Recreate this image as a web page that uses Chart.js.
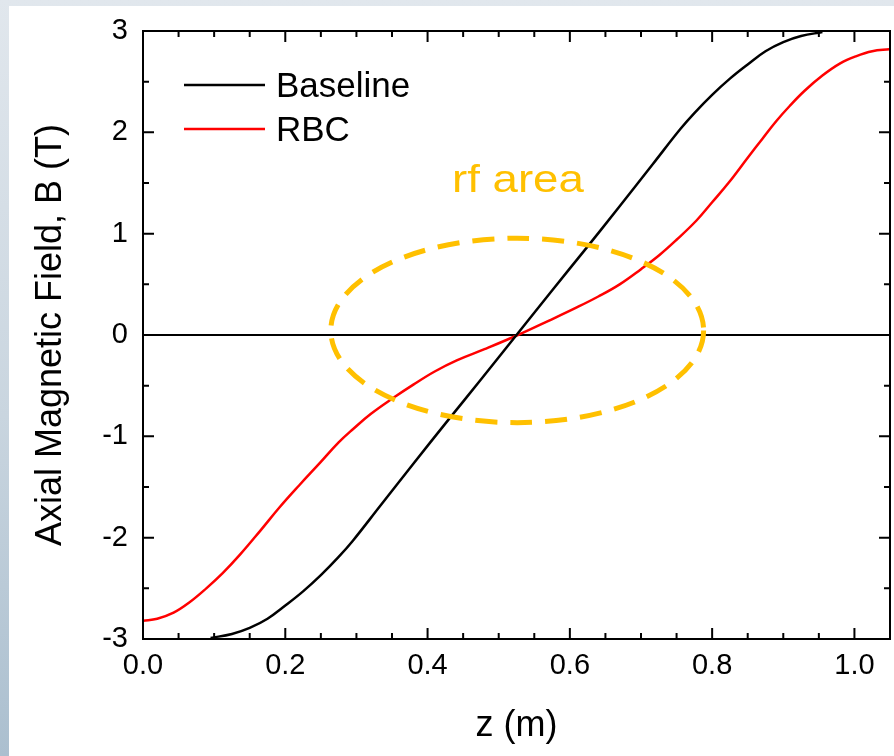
<!DOCTYPE html>
<html>
<head>
<meta charset="utf-8">
<script src="https://cdn.jsdelivr.net/npm/chart.js@4.4.0/dist/chart.umd.min.js"></script>
<style>
  html, body { margin: 0; padding: 0; }
  body {
    width: 894px; height: 756px; overflow: hidden; position: relative;
    background: linear-gradient(to bottom, #e1e7ed 0%, #c9d5df 55%, #abbfcf 100%);
  }
  #panel { position: absolute; left: 9px; top: 6px; width: 885px; height: 750px; background: #fff; }
</style>
</head>
<body>
<div id="panel"><canvas id="myChart" width="885" height="750"></canvas></div>
<script>
// values
const baselineZ = [0.095, 0.125, 0.15, 0.175, 0.20, 0.225, 0.25, 0.275, 0.295, 0.333, 0.38, 0.43, 0.475, 0.525,
                   0.575, 0.62, 0.67, 0.717, 0.755, 0.775, 0.80, 0.825, 0.85, 0.875, 0.90, 0.925, 0.955];
const baselineB = [-2.99, -2.95, -2.89, -2.80, -2.67, -2.53, -2.37, -2.19, -2.03, -1.69, -1.27, -0.83, -0.44, 0.0,
                   0.44, 0.83, 1.27, 1.69, 2.03, 2.19, 2.37, 2.53, 2.67, 2.80, 2.89, 2.95, 2.99];
const rbcZ = [0.0, 0.02, 0.043, 0.065, 0.089, 0.112, 0.136, 0.165, 0.192, 0.22, 0.249, 0.275, 0.295, 0.32, 0.352, 0.38,
              0.41, 0.441, 0.48, 0.527, 0.57, 0.609, 0.64, 0.67, 0.70, 0.726, 0.75, 0.778, 0.80, 0.824, 0.85, 0.871,
              0.89, 0.909, 0.93, 0.955, 0.98, 1.002, 1.025, 1.049];
const rbcB = [-2.82, -2.80, -2.74, -2.64, -2.50, -2.35, -2.17, -1.93, -1.70, -1.48, -1.26, -1.06, -0.93, -0.78, -0.62, -0.49,
              -0.36, -0.25, -0.14, 0.0, 0.14, 0.27, 0.38, 0.50, 0.65, 0.79, 0.94, 1.13, 1.31, 1.51, 1.75, 1.94,
              2.11, 2.26, 2.41, 2.56, 2.68, 2.75, 2.80, 2.82];
const seriesLabels = ["Baseline", "RBC"];
const xTicks = [0.0, 0.2, 0.4, 0.6, 0.8, 1.0];
const yTicks = [-3, -2, -1, 0, 1, 2, 3];

// "rf area" marker, in data units
const rfArea = { label: "rf area", cz: 0.526, cb: 0.045, rz: 0.262, rb: 0.91, labelZ: 0.527, labelB: 1.41 };

const FONT = "'Liberation Sans', Arial, sans-serif";
const toPoints = (zs, bs) => zs.map((z, i) => ({ x: z, y: bs[i] }));

// frame with inward ticks on all four sides
const frameTicks = {
  id: "frameTicks",
  afterDatasetsDraw(chart) {
    const { ctx, chartArea: a, scales: { x, y } } = chart;
    ctx.save();
    ctx.strokeStyle = "#000";
    ctx.lineWidth = 2;
    ctx.beginPath();
    for (let i = 0; i <= 21; i++) {
      const px = x.getPixelForValue(i * 0.05);
      const len = i % 4 === 0 ? 11 : 6;
      ctx.moveTo(px, a.bottom); ctx.lineTo(px, a.bottom - len);
      ctx.moveTo(px, a.top); ctx.lineTo(px, a.top + len);
    }
    for (let i = 0; i <= 12; i++) {
      const py = y.getPixelForValue(-3 + i * 0.5);
      const len = i % 2 === 0 ? 11 : 6;
      ctx.moveTo(a.left, py); ctx.lineTo(a.left + len, py);
      ctx.moveTo(a.right, py); ctx.lineTo(a.right - len, py);
    }
    ctx.stroke();
    ctx.strokeRect(a.left, a.top, a.right - a.left, a.bottom - a.top);
    ctx.restore();
  }
};

// dashed ellipse and its label
const rfMarker = {
  id: "rfMarker",
  afterDatasetsDraw(chart) {
    const { ctx, scales: { x, y } } = chart;
    const cx = x.getPixelForValue(rfArea.cz);
    const cy = y.getPixelForValue(rfArea.cb);
    const rx = x.getPixelForValue(rfArea.cz + rfArea.rz) - cx;
    const ry = cy - y.getPixelForValue(rfArea.cb + rfArea.rb);
    ctx.save();
    ctx.strokeStyle = "#ffc000";
    ctx.lineWidth = 5;
    ctx.setLineDash([22, 13]);
    ctx.beginPath();
    ctx.ellipse(cx, cy, rx, ry, 0, 0, Math.PI * 2);
    ctx.stroke();
    ctx.setLineDash([]);
    ctx.fillStyle = "#ffc000";
    ctx.font = "39px " + FONT;
    ctx.textAlign = "center";
    ctx.textBaseline = "alphabetic";
    ctx.translate(x.getPixelForValue(rfArea.labelZ), y.getPixelForValue(rfArea.labelB));
    ctx.scale(1.17, 1);
    ctx.fillText(rfArea.label, 0, 0);
    ctx.restore();
  }
};

// legend inside the plot, upper left
const innerLegend = {
  id: "innerLegend",
  afterDatasetsDraw(chart) {
    const { ctx, chartArea: a } = chart;
    ctx.save();
    ctx.font = "35px " + FONT;
    ctx.textBaseline = "middle";
    ctx.fillStyle = "#000";
    chart.data.datasets.forEach((ds, i) => {
      const yy = a.top + 56 + i * 44;
      ctx.strokeStyle = ds.borderColor;
      ctx.lineWidth = 2.5;
      ctx.beginPath();
      ctx.moveTo(a.left + 41, yy - 2);
      ctx.lineTo(a.left + 122, yy - 2);
      ctx.stroke();
      ctx.fillText(ds.label, a.left + 133, yy);
    });
    ctx.restore();
  }
};

const ctx = document.getElementById("myChart").getContext("2d");
const myChart = new Chart(ctx, {
  type: "line",
  data: {
    datasets: [
      {
        label: seriesLabels[0],
        data: toPoints(baselineZ, baselineB),
        borderColor: "#000000",
        borderWidth: 2.5,
        pointRadius: 0,
        fill: false,
        tension: 0.4,
      },
      {
        label: seriesLabels[1],
        data: toPoints(rbcZ, rbcB),
        borderColor: "#ff0000",
        borderWidth: 2.5,
        pointRadius: 0,
        fill: false,
        tension: 0.4,
      },
    ],
  },
  options: {
    responsive: false,
    animation: false,
    devicePixelRatio: 1,
    layout: { padding: { top: 25, right: 4, left: 0, bottom: 0 } },
    plugins: { legend: { display: false }, tooltip: { enabled: false } },
    scales: {
      x: {
        type: "linear",
        min: 0,
        max: 1.05,
        afterBuildTicks: (s) => { s.ticks = xTicks.map((v) => ({ value: v })); },
        afterFit: (s) => { s.height = 117; s.paddingLeft = 0; s.paddingRight = 0; },
        grid: { display: false, drawTicks: false },
        border: { display: false },
        ticks: {
          color: "#000",
          font: { family: FONT, size: 29 },
          padding: 10,
          maxRotation: 0,
          callback: (v) => v.toFixed(1),
        },
        title: {
          display: true,
          text: "z (m)",
          color: "#000",
          font: { family: FONT, size: 36 },
          padding: { top: 0, bottom: 8 },
        },
      },
      y: {
        type: "linear",
        min: -3,
        max: 3,
        afterBuildTicks: (s) => { s.ticks = yTicks.map((v) => ({ value: v })); },
        afterFit: (s) => { s.width = 134; s.paddingTop = 0; s.paddingBottom = 0; },
        grid: {
          drawTicks: false,
          lineWidth: 2,
          color: (c) => (c.tick && c.tick.value === 0 ? "#000" : "rgba(0,0,0,0)"),
        },
        border: { display: false },
        ticks: {
          color: "#000",
          font: { family: FONT, size: 29 },
          padding: 15,
          callback: (v) => String(v),
        },
        title: {
          display: true,
          text: "Axial Magnetic Field, B (T)",
          color: "#000",
          font: { family: FONT, size: 36 },
          padding: { top: 20, bottom: 0 },
        },
      },
    },
  },
  plugins: [frameTicks, rfMarker, innerLegend],
});
</script>
</body>
</html>
